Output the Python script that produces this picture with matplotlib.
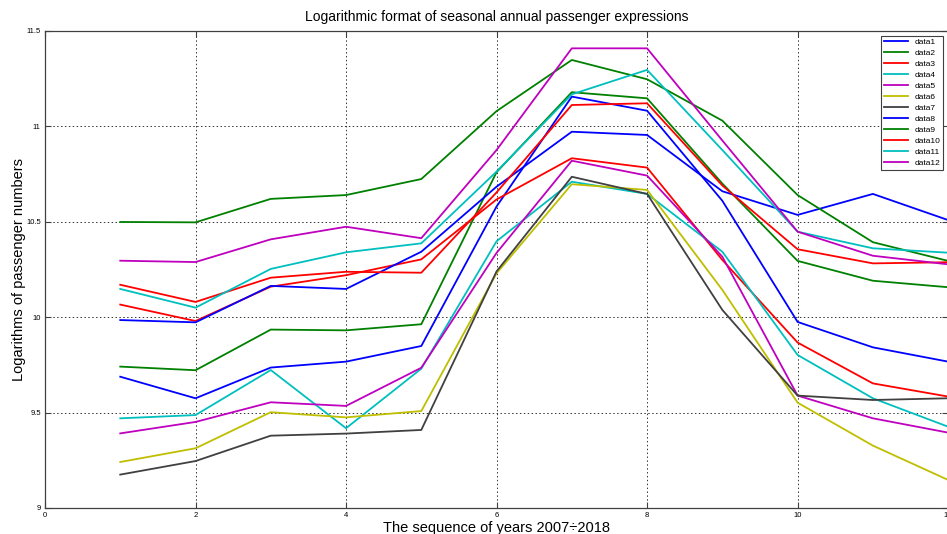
import numpy as np
import matplotlib
matplotlib.use("Agg")
import matplotlib.pyplot as plt
from matplotlib.ticker import FormatStrFormatter, MultipleLocator

plt.rcParams['font.family'] = ['Liberation Sans', 'DejaVu Sans']

# Sequence number of each year (2007 ... 2018)
years = np.arange(1, 13)

# log of passenger numbers, one series per season/month
data1 = [9.688, 9.575, 9.736, 9.767, 9.849, 10.58, 11.156, 11.082, 10.61, 9.975, 9.842, 9.767]
data2 = [9.741, 9.722, 9.935, 9.931, 9.963, 10.76, 11.179, 11.147, 10.70, 10.295, 10.191, 10.157]
data3 = [10.066, 9.98, 10.16, 10.22, 10.303, 10.617, 10.833, 10.784, 10.30, 9.867, 9.653, 9.584]
data4 = [9.470, 9.487, 9.723, 9.418, 9.73, 10.398, 10.71, 10.646, 10.343, 9.802, 9.575, 9.426]
data5 = [9.391, 9.451, 9.554, 9.535, 9.735, 10.337, 10.820, 10.742, 10.317, 9.589, 9.470, 9.395]
data6 = [9.241, 9.313, 9.502, 9.475, 9.508, 10.23, 10.697, 10.667, 10.143, 9.552, 9.327, 9.147]
data7 = [9.175, 9.246, 9.379, 9.390, 9.409, 10.24, 10.736, 10.646, 10.038, 9.589, 9.566, 9.575]
data8 = [9.985, 9.973, 10.164, 10.148, 10.343, 10.684, 10.972, 10.955, 10.66, 10.536, 10.646, 10.509]
data9 = [10.499, 10.497, 10.62, 10.64, 10.724, 11.08, 11.348, 11.247, 11.03, 10.64, 10.393, 10.295]
data10 = [10.170, 10.080, 10.207, 10.238, 10.233, 10.654, 11.112, 11.121, 10.69, 10.356, 10.282, 10.288]
data11 = [10.148, 10.050, 10.253, 10.340, 10.387, 10.763, 11.168, 11.296, 10.876, 10.448, 10.361, 10.338]
data12 = [10.296, 10.289, 10.408, 10.474, 10.414, 10.876, 11.409, 11.409, 10.926, 10.448, 10.322, 10.277]

series = [data1, data2, data3, data4, data5, data6,
          data7, data8, data9, data10, data11, data12]
labels = ['data%d' % (i + 1) for i in range(len(series))]

# old matlab colour order
colors = [(0, 0, 1), (0, 0.5, 0), (1, 0, 0), (0, 0.75, 0.75),
          (0.75, 0, 0.75), (0.75, 0.75, 0), (0.25, 0.25, 0.25)]

fig = plt.figure(figsize=(9.47, 5.34), dpi=100)
ax = fig.add_axes([0.0475, 0.0487, 0.9537, 0.8933])

for i, (y, lab) in enumerate(zip(series, labels)):
    ax.plot(years, y, color=colors[i % len(colors)], lw=1.3, label=lab)

ax.set_xlim(0, 12)
ax.set_ylim(9, 11.5)
ax.xaxis.set_major_locator(MultipleLocator(2))
ax.yaxis.set_major_locator(MultipleLocator(0.5))
ax.yaxis.set_major_formatter(FormatStrFormatter('%g'))
ax.tick_params(direction='in', top=True, right=True, length=4,
               labelsize=5.5, color='#404040', pad=3)
ax.grid(True, color='#333333', linestyle=(0, (1.5, 2.5)), linewidth=0.7)
for sp in ax.spines.values():
    sp.set_color('#404040')
    sp.set_linewidth(0.9)

ax.set_title('Logarithmic format of seasonal annual passenger expressions',
             fontsize=10, pad=7)
ax.set_xlabel('The sequence of years 2007\u00f72018', fontsize=10.5, labelpad=1)
ax.set_ylabel('Logarithms of passenger numbers', fontsize=10.5, labelpad=0)

leg = ax.legend(loc='upper right', fontsize=6, fancybox=False,
                edgecolor='#404040', framealpha=1, handlelength=2.9,
                labelspacing=0.38, borderaxespad=0.6, borderpad=0.3)
leg.get_frame().set_linewidth(0.8)

fig.savefig('out.png', dpi=100)
